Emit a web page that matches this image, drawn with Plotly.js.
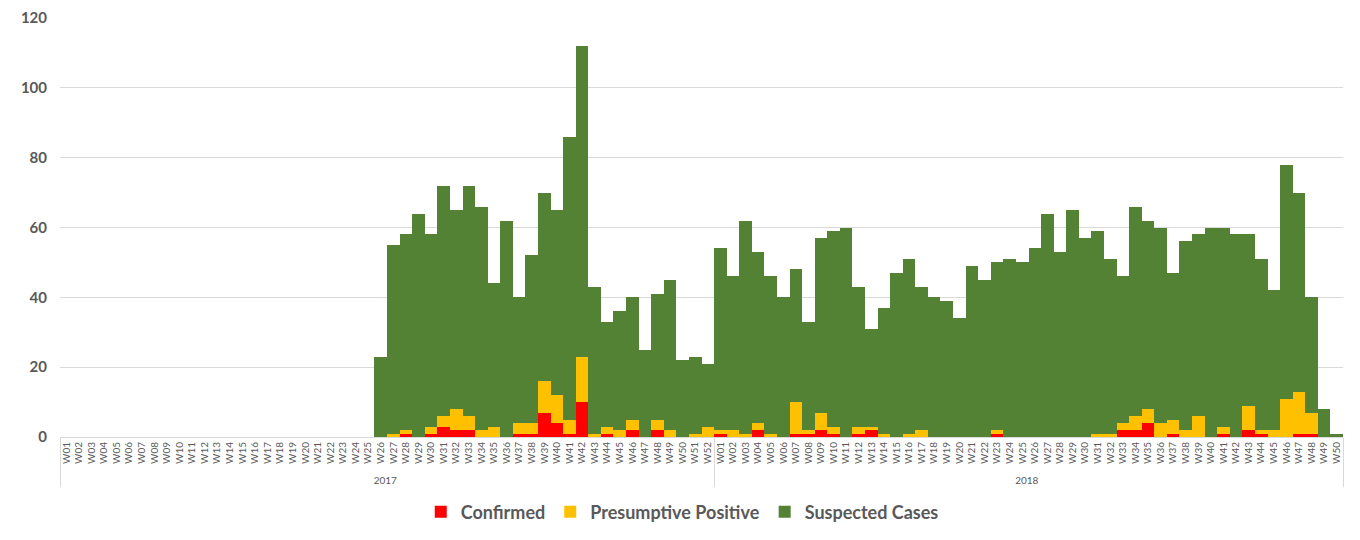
<!DOCTYPE html>
<html>
<head>
<meta charset="utf-8">
<script src="https://cdn.plot.ly/plotly-3.0.1.min.js"></script>
<style>
  html, body { margin: 0; padding: 0; background: #fff; }
  #chart { width: 1360px; height: 540px; }
  #frame { position: absolute; left: 2px; top: 0; width: 1px; height: 540px; background: #d9d9d9; }
</style>
</head>
<body>
<div id="frame"></div>
<div id="chart"></div>
<script>
const weeks2017 = ["W01","W02","W03","W04","W05","W06","W07","W08","W09","W10","W11","W12","W13","W14","W15","W16","W17","W18","W19","W20","W21","W22","W23","W24","W25","W26","W27","W28","W29","W30","W31","W32","W33","W34","W35","W36","W37","W38","W39","W40","W41","W42","W43","W44","W45","W46","W47","W48","W49","W50","W51","W52"];
const weeks2018 = ["W01","W02","W03","W04","W05","W06","W07","W08","W09","W10","W11","W12","W13","W14","W15","W16","W17","W18","W19","W20","W21","W22","W23","W24","W25","W26","W27","W28","W29","W30","W31","W32","W33","W34","W35","W36","W37","W38","W39","W40","W41","W42","W43","W44","W45","W46","W47","W48","W49","W50"];

// 2017 W01..W52
const confirmed2017 = [0,0,0,0,0,0,0,0,0,0,0,0,0,0,0,0,0,0,0,0,0,0,0,0,0,
  0,0,1,0,1,3,2,2,0,0,0,1,1,7,4,1,10,0,1,0,2,0,2,0,0,0,0];
const presumptive2017 = [0,0,0,0,0,0,0,0,0,0,0,0,0,0,0,0,0,0,0,0,0,0,0,0,0,
  0,1,1,0,2,3,6,4,2,3,0,3,3,9,8,4,13,1,2,2,3,0,3,2,0,1,3];
const suspected2017 = [0,0,0,0,0,0,0,0,0,0,0,0,0,0,0,0,0,0,0,0,0,0,0,0,0,
  23,54,56,64,55,66,57,66,64,41,62,36,48,54,53,81,89,42,30,34,35,25,36,43,22,22,18];

// 2018 W01..W50
const confirmed2018 = [1,0,0,2,0,0,1,1,2,1,0,1,2,0,0,0,0,0,0,0,0,0,1,0,0,0,0,0,0,0,
  0,0,2,2,4,0,1,0,0,0,1,0,2,1,0,0,1,1,0,0];
const presumptive2018 = [1,2,1,2,1,0,9,1,5,2,0,2,1,1,0,1,2,0,0,0,0,0,1,0,0,0,0,0,0,0,
  1,1,2,4,4,4,4,2,6,0,2,0,7,1,2,11,12,6,0,0];
const suspected2018 = [52,44,61,49,45,40,38,31,50,56,60,40,28,36,47,50,41,40,39,34,49,45,48,51,50,54,64,53,65,57,
  58,50,42,60,54,56,42,54,52,60,57,58,49,49,40,67,57,33,8,1];

const years = weeks2017.map(() => "2017").concat(weeks2018.map(() => "2018"));
const weeks = weeks2017.concat(weeks2018);
const xcat = [years, weeks];

const font = "Lato, 'Open Sans', 'DejaVu Sans', sans-serif";
const gray = "#595959";

const traces = [
  { name: "Confirmed", y: confirmed2017.concat(confirmed2018), color: "#FF0000" },
  { name: "Presumptive Positive", y: presumptive2017.concat(presumptive2018), color: "#FFC000" },
  { name: "Suspected Cases", y: suspected2017.concat(suspected2018), color: "#548235" }
].map(t => ({
  type: "bar",
  name: t.name,
  x: xcat,
  y: t.y,
  marker: { color: t.color, line: { width: 0 } },
  hoverinfo: "x+y+name"
}));

const layout = {
  width: 1360,
  height: 540,
  margin: { l: 60, r: 17, t: 18, b: 103, autoexpand: false },
  barmode: "stack",
  bargap: 0,
  paper_bgcolor: "#ffffff",
  plot_bgcolor: "#ffffff",
  font: { family: font, color: gray },
  xaxis: {
    type: "multicategory",
    automargin: false,
    tickangle: -90,
    tickfont: { size: 10, color: gray, family: font },
    showline: true,
    linecolor: "#d9d9d9",
    linewidth: 1,
    showgrid: false,
    ticks: "",
    showdividers: true,
    dividercolor: "#d9d9d9",
    dividerwidth: 1
  },
  yaxis: {
    range: [0, 120],
    dtick: 20,
    tick0: 0,
    automargin: false,
    showgrid: true,
    gridcolor: "#d9d9d9",
    gridwidth: 1,
    zeroline: false,
    showline: false,
    ticks: "",
    ticklabelstandoff: 12,
    tickfont: { size: 15, color: gray, family: font, weight: "bold" }
  },
  showlegend: true,
  legend: {
    orientation: "h",
    x: 0.485,
    xanchor: "center",
    y: -0.179,
    yanchor: "middle",
    traceorder: "normal",
    font: { size: 18, color: gray, family: font, weight: "bold" },
    itemclick: false
  }
};

Plotly.newPlot("chart", traces, layout, { displayModeBar: false, responsive: false });
</script>
</body>
</html>
